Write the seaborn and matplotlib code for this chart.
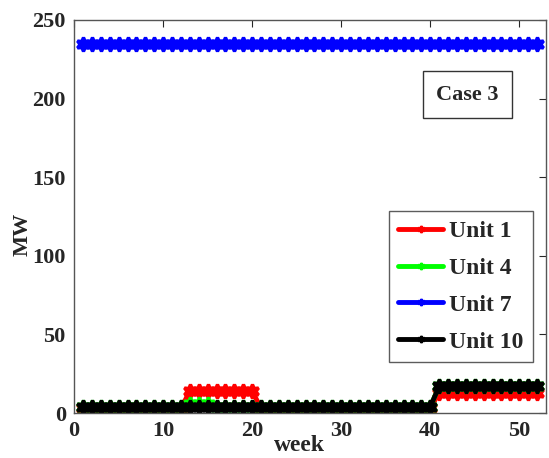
import matplotlib
matplotlib.use("Agg")
import matplotlib.pyplot as plt
from matplotlib.lines import Line2D
import seaborn as sns
import pandas as pd

weeks = list(range(1, 53))

unit1 = [3, 3, 3, 3, 3, 3, 3, 3, 3, 3, 3, 3,
         14, 14, 14, 14, 14, 14, 14, 14,
         3, 3, 3, 3, 3, 3, 3, 3, 3, 3, 3, 3, 3, 3, 3, 3, 3, 3, 3, 3,
         13, 13, 13, 13, 13, 13, 13, 13, 13, 13, 13, 13]
unit4 = [4, 4, 4, 4, 4, 4, 4, 4, 4, 4, 4, 4,
         6, 6, 6, 4, 4, 4, 4, 4,
         4, 4, 4, 4, 4, 4, 4, 4, 4, 4, 4, 4, 4, 4, 4, 4, 4, 4, 4, 4,
         17, 17, 17, 17, 17, 17, 17, 17, 17, 17, 17, 17]
unit7 = [235, 235, 235, 235, 235, 235, 235, 235, 235, 235, 235, 235, 235,
         235, 235, 235, 235, 235, 235, 235, 235, 235, 235, 235, 235, 235,
         235, 235, 235, 235, 235, 235, 235, 235, 235, 235, 235, 235, 235,
         235, 235, 235, 235, 235, 235, 235, 235, 235, 235, 235, 235, 235]
unit10 = [4, 4, 4, 4, 4, 4, 4, 4, 4, 4, 4, 4,
          4, 4, 4, 4, 4, 4, 4, 4,
          4, 4, 4, 4, 4, 4, 4, 4, 4, 4, 4, 4, 4, 4, 4, 4, 4, 4, 4, 4,
          17, 17, 17, 17, 17, 17, 17, 17, 17, 17, 17, 17]

unit_names = ["Unit 1", "Unit 4", "Unit 7", "Unit 10"]
unit_colors = ["#ff0000", "#00ff00", "#0000ff", "#000000"]

frames = []
for name, vals in zip(unit_names, [unit1, unit4, unit7, unit10]):
    frames.append(pd.DataFrame({"week": weeks, "MW": vals, "unit": name}))
df = pd.concat(frames, ignore_index=True)

sns.set_style("white")
plt.rcParams["font.family"] = ["Liberation Serif", "DejaVu Serif"]
plt.rcParams["font.weight"] = "bold"

fig = plt.figure(figsize=(5.49, 4.58), dpi=100)
ax = fig.add_axes([0.135, 0.098, 0.8595, 0.8585])

star6 = (6, 1, 0)
sns.lineplot(data=df, x="week", y="MW", hue="unit", hue_order=unit_names,
             palette=dict(zip(unit_names, unit_colors)), marker=star6,
             markersize=10, markeredgewidth=2.4, linewidth=3.5, ax=ax,
             legend=False)
for line, c in zip(ax.lines, unit_colors):
    line.set_markeredgecolor(c)
    line.set_markerfacecolor(c)

ax.set_xlim(0, 53)
ax.set_ylim(0, 250)
ax.set_xticks([0, 10, 20, 30, 40, 50])
ax.set_yticks([0, 50, 100, 150, 200, 250])
ax.tick_params(direction="in", length=5, width=0.8, top=True, right=True,
               labelsize=16)
ax.tick_params(axis="x", pad=6)
ax.tick_params(axis="y", pad=6)
for lbl in ax.get_xticklabels() + ax.get_yticklabels():
    lbl.set_fontweight("bold")
for s in ax.spines.values():
    s.set_color("#555555")
    s.set_linewidth(1.0)

ax.set_xlabel("week", fontsize=17, fontweight="bold")
ax.xaxis.set_label_coords(0.477, -0.056)
ax.set_ylabel("MW", fontsize=16, fontweight="bold")
ax.yaxis.set_label_coords(-0.088, 0.455)

handles = [Line2D([], [], color=c, linewidth=3.5, marker=star6,
                  markersize=5, markeredgewidth=1.5, markeredgecolor=c,
                  markerfacecolor=c) for c in unit_colors]
leg = ax.legend(handles, unit_names, loc="lower right",
                bbox_to_anchor=(0.9725, 0.13), borderaxespad=0,
                frameon=True, fancybox=False,
                edgecolor="#333333", handlelength=1.9,
                handletextpad=0.25, borderpad=0.4, labelspacing=0.65,
                prop={"weight": "bold", "size": 17})
leg.get_frame().set_linewidth(1.0)

ax.text(0.833, 0.81, "Case 3", transform=ax.transAxes, ha="center",
        va="center", fontsize=16, fontweight="bold",
        bbox=dict(boxstyle="square,pad=0.6", facecolor="white",
                  edgecolor="#333333", linewidth=1.0))

fig.savefig("out.png", dpi=100)
